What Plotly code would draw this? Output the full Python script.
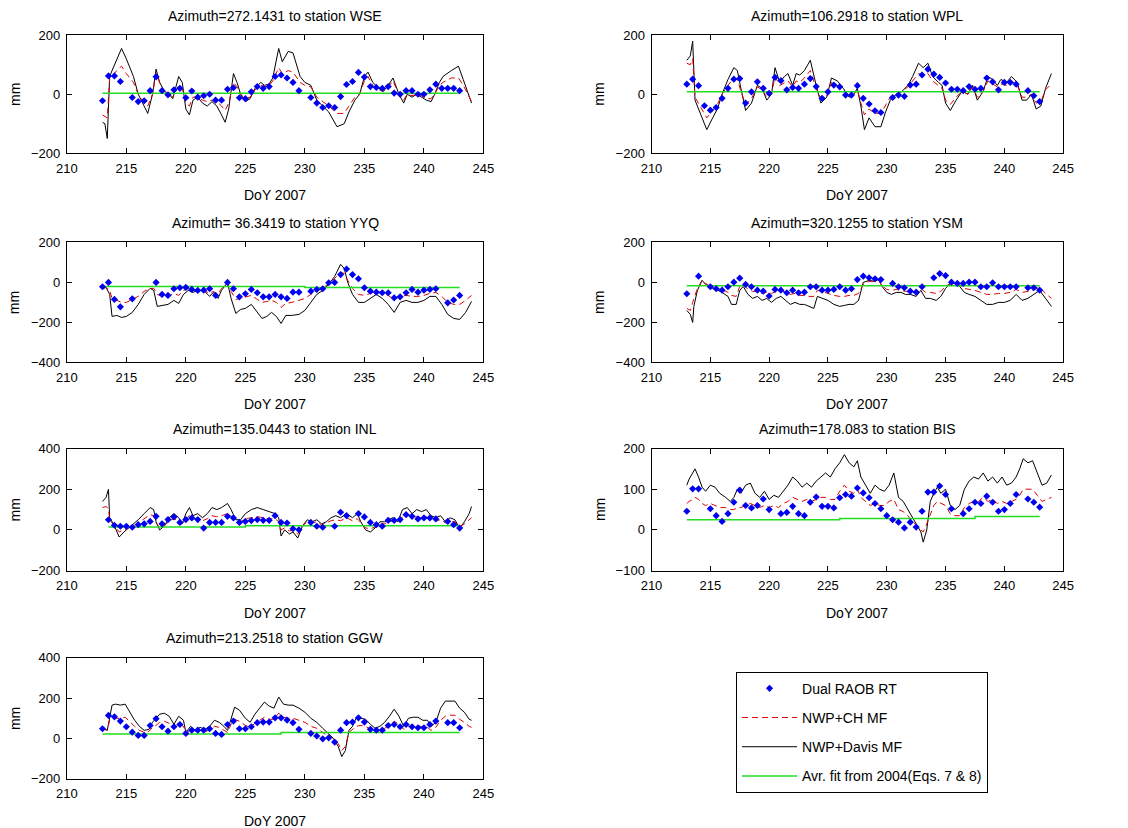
import plotly.graph_objects as go

W, H = 1128, 828
FONT = "Liberation Sans, Arial, sans-serif"
X_RANGE = [210, 245]
X_TICKS = [210, 215, 220, 225, 230, 235, 240, 245]
X_LABEL = "DoY 2007"
Y_LABEL = "mm"
LEGEND_NAMES = ["Dual RAOB RT", "NWP+CH MF", "NWP+Davis MF", "Avr. fit from 2004(Eqs. 7 & 8)"]

# ---------------- WSE ----------------
wse_title = "Azimuth=272.1431 to station WSE"
wse_raob_day = [213, 213.5, 214, 214.5, 215.5, 216, 216.5, 217, 217.5, 218, 218.5, 219, 219.5, 220, 220.5, 221, 221.5, 222,
                222.5, 223, 223.5, 224, 224.5, 225, 225.5, 226, 226.5, 227, 227.5, 228, 228.5, 229, 229.5, 230.5, 231, 231.5,
                232, 232.5, 233, 233.5, 234, 234.5, 235, 235.5, 236, 236.5, 237, 237.5, 238, 238.5, 239, 239.5, 240, 240.5,
                241, 241.5, 242, 242.5, 243]
wse_raob = [-22, 62, 62, 43, -11, -25, -22, 12, 59, 12, -2, 15, 20, -12, 11, -10, -5, 0,
            -20, -20, 17, 22, -12, -15, 8, 26, 20, 26, 60, 65, 55, 40, 12, -11, -30, -45,
            -39, -45, -8, 33, 43, 74, 58, 26, 23, 20, 26, 4, 0, 12, 12, 0, 0, 15,
            34, 20, 20, 20, 12]
wse_line_day = [213.0, 213.2, 213.4, 213.6, 213.8, 214.0, 214.3, 214.6, 215.0, 215.6, 216.0, 216.4, 216.8, 217.2, 217.5, 217.8,
                218.2, 218.6, 218.9, 219.4, 219.7, 220.0, 220.3, 220.6, 221.0, 221.4, 221.8, 222.2, 222.6, 223.0, 223.3, 223.6,
                224.0, 224.3, 224.6, 225.0, 225.4, 225.8, 226.3, 226.6, 227.0, 227.3, 227.8, 228.1, 228.6, 229.0, 229.6, 230.0,
                230.5, 231.0, 231.5, 232.0, 232.7, 233.3, 233.7, 234.2, 234.6, 235.0, 235.3, 235.7, 236.2, 236.6, 237.0, 237.4,
                237.9, 238.3, 238.6, 239.0, 239.4, 239.8, 240.2, 240.6, 240.9, 241.3, 241.6, 242.3, 242.9, 243.3, 243.7, 244.0]
wse_davis = [-95, -100, -150, 60, 80, 100, 130, 155, 120, 60, 0, -30, -65, 0, 85, 40,
             10, 0, -15, 60, 40, -50, -70, -20, -10, -30, -40, -25, -40, -70, -95, -50,
             70, 40, 0, -25, -15, 20, 40, 30, 35, 55, 155, 110, 145, 140, 60, 40,
             30, -20, -40, -60, -110, -100, -60, -20, 0, 60, 75, 40, 20, 10, 30, 55,
             0, -30, 0, -10, 0, -10, -20, -25, 0, 40, 60, 80, 95, 50, 0, -30]
wse_ch = [-70, -75, -80, 55, 60, 70, 85, 95, 70, 40, 0, -25, -40, 0, 70, 40,
          10, 0, -10, 30, 20, -30, -40, -10, -10, -20, -25, -20, -25, -40, -55, -30,
          40, 25, 0, -15, -10, 15, 30, 25, 30, 45, 90, 70, 80, 75, 40, 30,
          25, -10, -25, -40, -65, -65, -40, -10, 0, 45, 60, 30, 15, 10, 25, 45,
          0, -20, 0, -5, 0, -5, -15, -15, 0, 30, 40, 55, 55, 30, 0, -25]
wse_fit_day = [213, 243]
wse_fit = [3, 3]
wse_yrange = [-200, 200]
wse_dtick = 200

# ---------------- WPL ----------------
wpl_title = "Azimuth=106.2918 to station WPL"
wpl_raob_day = [213, 213.5, 214, 214.5, 215, 215.5, 216, 216.5, 217, 217.5, 218, 218.5, 219, 219.5, 220, 220.5, 221, 221.5,
                222, 222.5, 223, 223.5, 224, 224.5, 225, 225.5, 226, 226.5, 227, 227.5, 228, 228.5, 229, 229.5, 230.5, 231,
                231.5, 232, 232.5, 233, 233.5, 234, 234.5, 235, 235.5, 236, 236.5, 237, 237.5, 238, 238.5, 239, 239.5, 240,
                240.5, 241, 242, 242.5, 243]
wpl_raob = [34, 51, 29, -39, -54, -45, -14, 20, 51, 53, -30, 8, 42, 20, 3, 57, 46, 15,
            23, 20, 34, 53, 26, -14, 8, 31, 25, -3, -3, 29, -14, -33, -56, -62, -11, -3,
            -7, 31, 34, 65, 85, 68, 57, 38, 17, 17, 12, 26, 17, 20, 55, 42, 15, 40,
            40, 34, 12, -5, -25]
wpl_line_day = [213.0, 213.3, 213.5, 213.7, 214.2, 214.7, 215.2, 215.6, 216.0, 216.5, 217.0, 217.3, 217.6, 218.0, 218.5, 219.0,
                219.4, 219.8, 220.2, 220.5, 220.9, 221.3, 221.6, 222.0, 222.3, 222.6, 223.0, 223.5, 224.0, 224.4, 224.9, 225.3,
                225.8, 226.3, 226.8, 227.2, 227.5, 227.8, 228.1, 228.5, 229.0, 229.5, 229.9, 230.3, 230.8, 231.3, 231.8, 232.2,
                232.7, 233.1, 233.5, 233.9, 234.4, 234.7, 235.0, 235.4, 235.9, 236.4, 236.9, 237.3, 237.7, 238.2, 238.6, 239.0,
                239.4, 239.7, 240.2, 240.6, 241.1, 241.5, 241.9, 242.3, 242.7, 243.1, 243.5, 244.0]
wpl_davis = [115, 130, 180, -20, -70, -120, -80, -50, 0, 50, 90, 80, 20, -55, -30, 30,
             20, -20, 0, 90, 40, 60, 70, 30, 70, 65, 80, 115, 30, -30, -10, 55,
             45, 20, -10, 0, 20, -40, -120, -80, -110, -110, -60, -20, 0, 10, 30, 60,
             105, 90, 105, 60, 40, 30, -30, -55, -20, 10, 0, 30, -20, 10, 60, 50,
             30, 50, 40, 60, 40, -20, -20, 0, -50, -40, 20, 70]
wpl_ch = [105, 100, 120, -10, -45, -80, -55, -35, 0, 30, 55, 50, 10, -35, -15, 25,
          15, -10, 0, 60, 30, 40, 45, 25, 45, 40, 55, 80, 20, -15, -5, 40,
          30, 15, -5, 0, 15, -30, -70, -50, -65, -65, -35, -10, 0, 10, 25, 45,
          70, 65, 70, 45, 30, 20, -20, -35, -10, 10, 0, 25, -10, 10, 45, 35,
          25, 35, 30, 45, 30, -10, -10, 0, -30, -25, 15, 35]
wpl_fit_day = [213, 243]
wpl_fit = [8, 8]
wpl_yrange = [-200, 200]
wpl_dtick = 200

# ---------------- YYQ ----------------
yyq_title = "Azimuth= 36.3419 to station YYQ"
yyq_raob_day = [213, 213.5, 214, 214.5, 215.5, 217.5, 218, 218.5, 219, 219.5, 220, 220.5, 221, 221.5, 222, 222.5, 223.5, 224,
                224.5, 225, 225.5, 226, 226.5, 227, 227.5, 228, 228.5, 229, 229.5, 230.5, 231, 231.5, 232, 232.5, 233, 233.5,
                234, 234.5, 235, 235.5, 236, 236.5, 237, 237.5, 238, 238.5, 239, 239.5, 240, 240.5, 241, 242, 242.5, 243]
yyq_raob = [-22, 0, -85, -122, -82, 0, -60, -65, -32, -27, -25, -35, -40, -39, -32, -65, 0, -32,
            -72, -57, -35, -52, -72, -72, -60, -72, -80, -49, -49, -44, -35, -32, -2, 0, 39, 67,
            39, 18, -27, -44, -49, -52, -52, -77, -72, -52, -35, -49, -39, -35, -32, -102, -88, -65]
yyq_line_day = [213.0, 213.3, 213.6, 213.8, 214.2, 214.6, 215.0, 215.5, 216.0, 216.5, 217.0, 217.3, 217.6, 218.0, 218.5, 219.0,
                219.4, 219.8, 220.2, 220.6, 221.0, 221.5, 222.0, 222.3, 222.7, 223.0, 223.5, 223.8, 224.2, 224.6, 225.0, 225.5,
                226.0, 226.4, 226.8, 227.2, 227.6, 228.0, 228.4, 228.9, 229.5, 230.0, 230.5, 231.0, 231.5, 232.0, 232.5, 233.0,
                233.3, 233.6, 234.0, 234.5, 235.0, 235.5, 236.0, 236.5, 237.0, 237.5, 238.0, 238.5, 239.0, 239.5, 240.0, 240.5,
                241.0, 241.5, 242.0, 242.5, 243.0, 243.5, 244.0]
yyq_davis = [-30, -25, -60, -170, -165, -175, -170, -150, -110, -60, -30, -40, -120, -115, -110, -90,
             -105, -60, -40, -50, -40, -40, -70, -50, -80, -40, 0, -80, -155, -135, -130, -110,
             -150, -180, -170, -150, -170, -205, -165, -165, -160, -140, -100, -60, -40, -10, 30, 90,
             70, 0, -60, -100, -100, -80, -60, -80, -110, -150, -100, -90, -100, -100, -90, -70,
             -70, -110, -160, -180, -185, -150, -95]
yyq_ch = [-30, -25, -40, -80, -90, -100, -100, -85, -70, -45, -30, -30, -60, -70, -70, -55,
          -65, -40, -30, -40, -35, -40, -55, -45, -60, -30, -5, -45, -85, -80, -75, -65,
          -85, -100, -95, -90, -100, -125, -105, -100, -90, -80, -60, -40, -30, -5, 20, 50,
          45, 10, -30, -60, -65, -55, -45, -50, -65, -85, -70, -65, -70, -70, -65, -55,
          -50, -70, -100, -110, -110, -90, -65]
yyq_fit_day = [213, 230, 243]
yyq_fit = [-20, -25, -25]
yyq_yrange = [-400, 200]
yyq_dtick = 200

# ---------------- YSM ----------------
ysm_title = "Azimuth=320.1255 to station YSM"
ysm_raob_day = [213, 214, 215, 215.5, 216, 216.5, 217, 217.5, 218, 218.5, 219, 219.5, 220, 220.5, 221, 221.5, 222, 222.5,
                223, 223.5, 224, 224.5, 225, 225.5, 226, 226.5, 227, 227.5, 228, 228.5, 229, 229.5, 230.5, 231, 231.5, 232,
                232.5, 233, 234, 234.5, 235, 235.5, 236, 236.5, 237, 237.5, 238, 238.5, 239, 239.5, 240, 240.5, 241, 242,
                242.5, 243]
ysm_raob = [-57, 31, -22, -32, -39, -22, 1, 21, -10, -22, -39, -44, -68, -35, -39, -52, -39, -52,
            -49, -22, -22, -39, -39, -35, -22, -39, -32, 14, 31, 23, 18, 14, -5, -22, -27, -44,
            -49, -22, 23, 44, 34, 1, -5, -5, 1, 1, -22, -22, -2, -22, -22, -22, -22, -27,
            -27, -39]
ysm_line_day = [213.0, 213.3, 213.5, 213.6, 213.9, 214.3, 214.6, 215.0, 215.5, 216.0, 216.5, 216.8, 217.2, 217.5, 217.8, 218.2,
                218.6, 219.0, 219.4, 219.8, 220.2, 220.6, 221.0, 221.4, 221.8, 222.2, 222.6, 223.0, 223.4, 223.8, 224.1, 224.5,
                225.0, 225.5, 226.0, 226.4, 226.8, 227.2, 227.6, 228.0, 228.5, 229.0, 229.3, 229.6, 230.0, 230.4, 230.8, 231.2,
                231.6, 232.0, 232.5, 232.9, 233.3, 233.7, 234.2, 234.6, 235.0, 235.4, 235.8, 236.2, 236.6, 237.0, 237.5, 238.0,
                238.5, 239.0, 239.5, 240.0, 240.5, 241.0, 241.5, 242.0, 242.5, 243.0, 243.5, 244.0]
ysm_davis = [-140, -160, -200, -120, -40, 10, -10, -25, -35, -50, -70, -110, -110, -40, -20, -60,
             -80, -70, -90, -80, -100, -80, -70, -90, -110, -100, -110, -110, -120, -130, -70, -80,
             -90, -110, -120, -115, -110, -110, -90, 0, 10, 5, 15, -20, -50, -60, -50, -50,
             -60, -60, -70, -40, -80, -80, -90, -70, -30, -5, -5, -20, -50, -60, -70, -90,
             -110, -110, -100, -100, -90, -60, -90, -80, -60, -40, -80, -120]
ysm_ch = [-130, -140, -100, -80, -30, 10, -5, -20, -30, -35, -50, -65, -70, -20, -10, -35,
          -45, -45, -55, -50, -55, -45, -40, -50, -60, -55, -65, -65, -70, -70, -40, -45,
          -55, -65, -70, -70, -65, -65, -55, -10, 5, 5, 10, -15, -35, -40, -35, -40,
          -45, -45, -50, -30, -50, -50, -55, -45, -20, -5, -5, -15, -30, -35, -40, -50,
          -60, -60, -55, -55, -50, -35, -50, -45, -35, -25, -55, -80]
ysm_fit_day = [213, 243]
ysm_fit = [-17, -17]
ysm_yrange = [-400, 200]
ysm_dtick = 200

# ---------------- INL ----------------
inl_title = "Azimuth=135.0443 to station INL"
inl_raob_day = [213.5, 214, 214.5, 215, 215.5, 216, 216.5, 217, 217.5, 218, 218.5, 219, 219.5, 220, 220.5, 221, 221.5, 222,
                222.5, 223, 223.5, 224, 224.5, 225, 225.5, 226, 226.5, 227, 227.5, 228, 228.5, 229, 229.5, 230.5, 231, 231.5,
                232.5, 233, 233.5, 234.5, 235, 235.5, 236, 236.5, 237, 237.5, 238, 238.5, 239, 239.5, 240, 240.5, 241, 242,
                242.5, 243]
inl_raob = [50, 23, 18, 18, 13, 26, 30, 42, 67, 30, 51, 64, 37, 51, 59, 51, 9, 37,
            37, 37, 67, 59, 37, 42, 46, 51, 47, 47, 70, 37, 34, 6, 1, 37, 18, 13,
            18, 87, 70, 80, 64, 37, 26, 18, 47, 47, 51, 75, 67, 54, 59, 59, 54, 42,
            26, 9]
inl_line_day = [213.0, 213.3, 213.5, 213.6, 214.0, 214.4, 214.8, 215.2, 215.6, 216.0, 216.5, 217.0, 217.3, 217.5, 217.8, 218.2,
                218.6, 219.0, 219.4, 219.7, 220.0, 220.3, 220.6, 221.0, 221.4, 221.8, 222.2, 222.6, 223.0, 223.5, 223.8, 224.2,
                224.6, 225.0, 225.5, 226.0, 226.5, 227.0, 227.5, 227.8, 228.0, 228.3, 228.7, 229.0, 229.4, 229.8, 230.2, 230.6,
                231.0, 231.4, 231.8, 232.2, 232.6, 233.0, 233.5, 234.0, 234.4, 234.7, 235.1, 235.5, 235.9, 236.3, 236.7, 237.0,
                237.4, 237.8, 238.2, 238.6, 239.0, 239.4, 239.8, 240.2, 240.6, 241.0, 241.4, 241.8, 242.2, 242.6, 243.0, 243.4,
                243.8, 244.0]
inl_davis = [140, 160, 200, 60, 20, -35, -10, 10, 30, 50, 80, 110, 100, 40, 0, 20,
             60, 80, 60, 30, 80, 110, 70, 80, 60, 80, 110, 100, 110, 130, 100, 50,
             50, 80, 100, 110, 100, 90, 80, 60, -30, 0, -20, -10, -40, 20, 50, 40,
             50, 30, 40, 60, 70, 60, 80, 60, 80, 40, 0, -10, 10, 40, 40, 50,
             60, 40, 100, 110, 80, 100, 90, 100, 70, 60, 70, 40, 60, 50, 10, 40,
             80, 115]
inl_ch = [110, 115, 105, 50, 20, -10, 0, 10, 20, 35, 55, 75, 70, 35, 10, 20,
          45, 55, 45, 30, 55, 70, 55, 55, 45, 55, 70, 65, 70, 80, 70, 40,
          40, 55, 60, 65, 60, 55, 55, 40, 0, 10, -5, 0, -20, 20, 40, 35,
          40, 25, 35, 45, 50, 45, 60, 45, 55, 35, 10, 5, 15, 30, 30, 40,
          45, 35, 65, 75, 60, 65, 60, 65, 50, 45, 50, 35, 45, 40, 15, 30,
          50, 60]
inl_fit_day = [213.5, 225, 243]
inl_fit = [15, 20, 20]
inl_yrange = [-200, 400]
inl_dtick = 200

# ---------------- BIS ----------------
bis_title = "Azimuth=178.083 to station BIS"
bis_raob_day = [213, 213.5, 214, 215, 215.5, 216, 216.5, 217, 217.5, 218, 218.5, 219, 219.5, 220, 221, 221.5, 222, 222.5,
                223, 223.5, 224, 224.5, 225, 225.5, 226, 226.5, 227, 227.5, 228, 228.5, 229, 229.5, 230, 230.5, 231, 231.5,
                232, 232.5, 233, 233.5, 234, 234.5, 235, 235.5, 236.5, 237, 237.5, 238, 238.5, 239, 239.5, 240, 240.5, 241,
                242, 242.5, 243]
bis_raob = [46, 101, 101, 52, 35, 21, 40, 68, 98, 60, 54, 60, 76, 50, 40, 43, 58, 40,
            35, 68, 81, 58, 58, 54, 79, 87, 83, 103, 91, 79, 65, 52, 35, 25, 19, 5,
            19, 7, 46, 93, 93, 108, 87, 52, 40, 52, 68, 65, 83, 68, 46, 50, 65, 87,
            76, 68, 56]
bis_line_day = [213.0, 213.2, 213.5, 213.7, 214.0, 214.3, 214.6, 215.0, 215.4, 215.8, 216.3, 216.7, 217.0, 217.3, 217.6, 218.0,
                218.4, 218.8, 219.2, 219.6, 220.0, 220.4, 220.8, 221.2, 221.6, 222.0, 222.4, 222.8, 223.2, 223.6, 224.0, 224.4,
                224.8, 225.2, 225.6, 226.0, 226.4, 226.8, 227.2, 227.5, 227.8, 228.2, 228.6, 229.0, 229.4, 229.8, 230.2, 230.6,
                231.0, 231.4, 231.8, 232.2, 232.6, 232.9, 233.1, 233.4, 233.7, 234.0, 234.3, 234.6, 235.0, 235.4, 235.8, 236.2,
                236.6, 237.0, 237.4, 237.8, 238.2, 238.6, 239.0, 239.4, 239.8, 240.2, 240.6, 241.0, 241.3, 241.6, 242.0, 242.4,
                242.8, 243.2, 243.6, 244.0]
bis_davis = [110, 125, 140, 150, 130, 105, 95, 110, 105, 90, 80, 70, 80, 100, 90, 110,
             115, 90, 80, 95, 75, 85, 80, 95, 110, 130, 120, 105, 115, 105, 120, 130,
             140, 130, 150, 165, 185, 165, 155, 170, 130, 110, 90, 110, 100, 95, 110, 140,
             80, 70, 50, 30, 10, -5, -30, 0, 70, 90, 105, 90, 100, 60, 50, 60,
             100, 120, 130, 125, 140, 120, 130, 115, 130, 110, 115, 130, 150, 175, 165, 170,
             140, 110, 115, 135]
bis_ch = [65, 70, 75, 80, 75, 65, 60, 65, 60, 55, 55, 50, 50, 55, 55, 60,
          65, 60, 55, 60, 55, 60, 55, 65, 70, 80, 75, 70, 75, 70, 75, 80,
          80, 75, 75, 95, 110, 95, 90, 100, 80, 70, 60, 65, 60, 60, 70, 75,
          50, 45, 35, 20, 10, 0, -5, 15, 40, 60, 70, 65, 60, 40, 35, 35,
          55, 65, 70, 70, 80, 70, 75, 65, 70, 65, 70, 75, 85, 100, 100, 100,
          85, 70, 75, 80]
bis_fit_day = [213, 226, 237.5, 243]
bis_fit = [25, 28, 33, 33]
bis_yrange = [-100, 200]
bis_dtick = 100

# ---------------- GGW ----------------
ggw_title = "Azimuth=213.2518 to station GGW"
ggw_raob_day = [213, 213.5, 214, 214.5, 215, 215.5, 216, 216.5, 217, 217.5, 218, 218.5, 219, 219.5, 220, 220.5, 221, 221.5,
                222, 222.5, 223, 223.5, 224, 224.5, 225, 225.5, 226, 226.5, 227, 227.5, 228, 228.5, 229, 229.5, 230.5, 231,
                231.5, 232, 232.5, 233, 233.5, 234, 234.5, 235, 235.5, 236, 236.5, 237, 237.5, 238, 238.5, 239, 239.5, 240,
                240.5, 241, 242, 242.5, 243]
ggw_raob = [48, 114, 107, 86, 58, 31, 15, 15, 64, 98, 58, 36, 58, 69, 25, 41, 41, 41,
            48, 25, 20, 69, 86, 48, 48, 58, 78, 81, 81, 102, 102, 91, 78, 45, 25, 12,
            -2, 3, -18, 41, 78, 81, 102, 81, 45, 41, 41, 64, 69, 58, 69, 58, 53, 53,
            69, 86, 78, 78, 53]
ggw_line_day = [213.0, 213.2, 213.4, 213.6, 213.8, 214.1, 214.5, 214.9, 215.3, 215.7, 216.1, 216.5, 216.9, 217.2, 217.5, 217.8,
                218.2, 218.6, 219.0, 219.4, 219.8, 220.0, 220.4, 220.8, 221.2, 221.6, 222.0, 222.4, 222.8, 223.2, 223.5, 223.8,
                224.1, 224.5, 225.0, 225.4, 225.8, 226.2, 226.6, 227.0, 227.4, 227.8, 228.2, 228.6, 229.0, 229.5, 230.0, 230.5,
                231.0, 231.5, 232.0, 232.4, 232.8, 233.1, 233.4, 233.7, 234.0, 234.3, 234.7, 235.1, 235.5, 235.9, 236.3, 236.7,
                237.1, 237.5, 237.9, 238.3, 238.7, 239.1, 239.5, 239.9, 240.3, 240.6, 241.0, 241.4, 241.8, 242.2, 242.6, 243.0,
                243.4, 243.8, 244.0]
ggw_davis = [40, 45, 40, 110, 165, 170, 165, 170, 130, 90, 60, 40, 45, 80, 100, 120,
             125, 110, 70, 110, 90, 30, 60, 40, 55, 45, 60, 90, 80, 60, 40, 100,
             155, 140, 100, 80, 120, 150, 180, 160, 150, 205, 170, 165, 165, 150, 130, 100,
             80, 50, 20, 0, -40, -90, -60, 40, 60, 100, 100, 95, 70, 50, 60, 80,
             110, 145, 110, 60, 100, 105, 105, 90, 90, 60, 80, 150, 185, 185, 185, 150,
             130, 95, 90]
ggw_ch = [40, 45, 40, 90, 100, 100, 100, 105, 80, 60, 40, 30, 35, 55, 65, 80,
          85, 75, 50, 70, 60, 30, 40, 35, 40, 35, 40, 60, 55, 40, 30, 70,
          95, 85, 65, 55, 75, 90, 105, 95, 95, 125, 105, 100, 100, 90, 80, 60,
          50, 30, 10, 0, -25, -60, -40, 30, 45, 60, 65, 60, 45, 30, 40, 50,
          65, 85, 70, 45, 60, 65, 65, 55, 55, 40, 55, 90, 110, 115, 115, 95,
          80, 60, 55]
ggw_fit_day = [213, 228, 243]
ggw_fit = [22, 30, 30]
ggw_yrange = [-200, 400]
ggw_dtick = 200

panels = [
    (wse_title, wse_raob_day, wse_raob, wse_line_day, wse_ch, wse_davis, wse_fit_day, wse_fit, wse_yrange, wse_dtick),
    (wpl_title, wpl_raob_day, wpl_raob, wpl_line_day, wpl_ch, wpl_davis, wpl_fit_day, wpl_fit, wpl_yrange, wpl_dtick),
    (yyq_title, yyq_raob_day, yyq_raob, yyq_line_day, yyq_ch, yyq_davis, yyq_fit_day, yyq_fit, yyq_yrange, yyq_dtick),
    (ysm_title, ysm_raob_day, ysm_raob, ysm_line_day, ysm_ch, ysm_davis, ysm_fit_day, ysm_fit, ysm_yrange, ysm_dtick),
    (inl_title, inl_raob_day, inl_raob, inl_line_day, inl_ch, inl_davis, inl_fit_day, inl_fit, inl_yrange, inl_dtick),
    (bis_title, bis_raob_day, bis_raob, bis_line_day, bis_ch, bis_davis, bis_fit_day, bis_fit, bis_yrange, bis_dtick),
    (ggw_title, ggw_raob_day, ggw_raob, ggw_line_day, ggw_ch, ggw_davis, ggw_fit_day, ggw_fit, ggw_yrange, ggw_dtick),
]

# The page has the browser's 8px body margin and the whole page is fitted into the
# 1128x828 shot, so target pixel positions are converted into figure pixels here.
SX = W / (W + 16.0)
SY = H / (H + 16.0)


def fx(px):
    return (px / SX - 8) / W


def fy(py):
    return 1 - (py / SY - 8) / H


col_px = [(64, 483), (652, 1066)]
row_px = [(36, 154), (243, 363), (449, 571), (658, 779)]

BLUE = "#0000f0"
RED = "#e00000"
BLACK = "#000000"
GREEN = "#22dd22"

fig = go.Figure()
layout = dict(
    width=W, height=H,
    margin=dict(l=0, r=0, t=0, b=0),
    paper_bgcolor="white", plot_bgcolor="white",
    font=dict(family=FONT, size=13, color="black"),
    showlegend=True,
    legend=dict(x=fx(737), y=fy(672), xanchor="left", yanchor="top",
                bordercolor="black", borderwidth=1, bgcolor="white",
                font=dict(family=FONT, size=14, color="black"),
                tracegroupgap=8, itemwidth=55),
    annotations=[],
)

for i, (title, rday, rval, lday, ch, davis, fday, fval, yr, dt) in enumerate(panels):
    n = i + 1
    row, col = divmod(i, 2)
    sfx = "" if n == 1 else str(n)
    xa, ya = "x" + sfx, "y" + sfx
    x0, x1 = col_px[col]
    y0, y1 = row_px[row]
    first = (n == 1)

    fig.add_trace(go.Scatter(x=lday, y=davis, mode="lines", name=LEGEND_NAMES[2],
                             line=dict(color=BLACK, width=1), xaxis=xa, yaxis=ya,
                             showlegend=first, legendgroup="davis", legendrank=3))
    fig.add_trace(go.Scatter(x=lday, y=ch, mode="lines", name=LEGEND_NAMES[1],
                             line=dict(color=RED, width=1, dash="6px,4px"), xaxis=xa, yaxis=ya,
                             showlegend=first, legendgroup="ch", legendrank=2))
    fig.add_trace(go.Scatter(x=fday, y=fval, mode="lines", name=LEGEND_NAMES[3],
                             line=dict(color=GREEN, width=1.5, shape="hv"), xaxis=xa, yaxis=ya,
                             showlegend=first, legendgroup="fit", legendrank=4))
    fig.add_trace(go.Scatter(x=rday, y=rval, mode="markers", name=LEGEND_NAMES[0],
                             marker=dict(symbol="diamond", color=BLUE, size=5.5, line=dict(width=0)),
                             xaxis=xa, yaxis=ya,
                             showlegend=first, legendgroup="raob", legendrank=1))

    axis_common = dict(showline=True, linecolor="black", linewidth=1, mirror="ticks",
                       ticks="inside", ticklen=5, tickcolor="black", showgrid=False, zeroline=False,
                       tickfont=dict(family=FONT, size=13, color="black"))
    layout["xaxis" + sfx] = dict(domain=[fx(x0), fx(x1)], anchor=ya, range=X_RANGE,
                                 tickmode="array", tickvals=X_TICKS, ticklabelstandoff=3, **axis_common)
    layout["yaxis" + sfx] = dict(domain=[fy(y1), fy(y0)], anchor=xa, range=yr,
                                 tick0=yr[0], dtick=dt, ticklabelstandoff=3, **axis_common)

    layout["annotations"].append(dict(text=title, xref=xa + " domain", yref=ya + " domain",
                                      x=0.5, y=1, xanchor="center", yanchor="middle", yshift=19.5,
                                      showarrow=False, font=dict(family=FONT, size=14, color="black")))
    layout["annotations"].append(dict(text=X_LABEL, xref=xa + " domain", yref=ya + " domain",
                                      x=0.5, y=0, xanchor="center", yanchor="middle", yshift=-42,
                                      showarrow=False, font=dict(family=FONT, size=14, color="black")))
    layout["annotations"].append(dict(text=Y_LABEL, xref=xa + " domain", yref=ya + " domain",
                                      x=0, y=0.5, xanchor="center", yanchor="middle", xshift=-52,
                                      textangle=-90, showarrow=False,
                                      font=dict(family=FONT, size=14, color="black")))

fig.update_layout(**layout)
fig.write_html("out.html")
